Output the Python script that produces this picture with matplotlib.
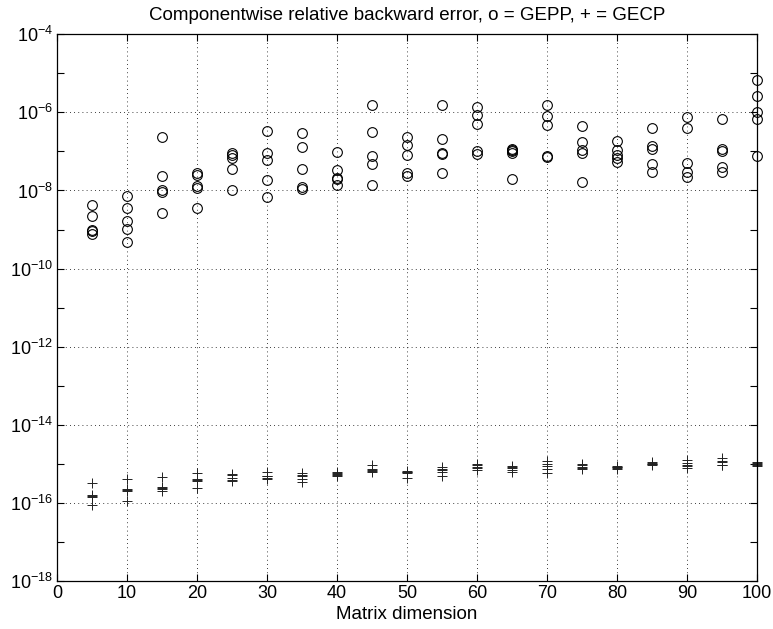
import numpy as np
import matplotlib
matplotlib.use("Agg")
import matplotlib.pyplot as plt
from matplotlib.ticker import FixedLocator, NullFormatter, FixedFormatter

plt.rcParams['font.family'] = ['Liberation Sans', 'DejaVu Sans']
plt.rcParams['mathtext.default'] = 'regular'

# matrix sizes tested
dims = [5, 10, 15, 20, 25, 30, 35, 40, 45, 50, 55, 60, 65, 70, 75, 80, 85, 90, 95, 100]

# log10 of the componentwise backward error, 5 trials per size
gepp_log = [
    [-8.38, -8.65, -9.01, -9.05, -9.12],
    [-8.14, -8.45, -8.78, -8.99, -9.33],
    [-6.64, -7.63, -7.99, -8.03, -8.58],
    [-7.54, -7.60, -7.88, -7.93, -8.46],
    [-7.03, -7.09, -7.16, -7.46, -7.99],
    [-6.47, -7.03, -7.22, -7.73, -8.17],
    [-6.53, -6.88, -7.45, -7.90, -7.96],
    [-7.01, -7.47, -7.69, -7.71, -7.86],
    [-5.81, -6.50, -7.11, -7.32, -7.86],
    [-6.63, -6.84, -7.08, -7.56, -7.63],
    [-5.81, -6.67, -7.03, -7.07, -7.55],
    [-5.85, -6.07, -6.31, -6.99, -7.06],
    [-6.94, -6.97, -6.99, -7.05, -7.70],
    [-5.81, -6.09, -6.32, -7.11, -7.13],
    [-6.36, -6.76, -6.96, -7.05, -7.77],
    [-6.73, -6.96, -7.09, -7.17, -7.26],
    [-6.40, -6.86, -6.94, -7.32, -7.52],
    [-6.12, -6.40, -7.29, -7.53, -7.66],
    [-6.17, -6.94, -6.98, -7.41, -7.52],
    [-5.17, -5.58, -5.98, -6.17, -7.11],
]

gecp_log = [
    [-15.48, -15.79, -15.82, -15.85, -16.05],
    [-15.39, -15.65, -15.67, -15.69, -15.95],
    [-15.34, -15.60, -15.62, -15.65, -15.69],
    [-15.24, -15.39, -15.41, -15.43, -15.62],
    [-15.26, -15.29, -15.35, -15.42, -15.44],
    [-15.21, -15.30, -15.32, -15.35, -15.39],
    [-15.24, -15.28, -15.32, -15.39, -15.47],
    [-15.20, -15.24, -15.26, -15.29, -15.32],
    [-15.04, -15.13, -15.15, -15.19, -15.22],
    [-15.18, -15.20, -15.22, -15.24, -15.35],
    [-15.09, -15.12, -15.15, -15.20, -15.32],
    [-15.01, -15.04, -15.07, -15.11, -15.17],
    [-15.05, -15.08, -15.11, -15.15, -15.21],
    [-14.92, -15.01, -15.05, -15.13, -15.24],
    [-15.01, -15.04, -15.07, -15.10, -15.13],
    [-15.05, -15.08, -15.09, -15.11, -15.13],
    [-14.95, -14.98, -15.00, -15.01, -15.04],
    [-14.91, -14.98, -15.02, -15.05, -15.11],
    [-14.84, -14.93, -14.95, -15.03, -15.04],
    [-14.94, -14.97, -15.00, -15.02, -15.05],
]

fig = plt.figure(figsize=(7.73, 6.29), dpi=100)
ax = fig.add_axes([0.0737, 0.0763, 0.9056, 0.8692])

for n, pp, cp in zip(dims, gepp_log, gecp_log):
    ax.semilogy([n] * len(pp), 10.0 ** np.array(pp), 'o', ms=7, mfc='none',
                mec='black', mew=0.8, clip_on=False)
    ax.semilogy([n] * len(cp), 10.0 ** np.array(cp), '+', ms=7,
                mec='#222222', mew=0.7, clip_on=False)

ax.set_xlim(0, 100)
ax.set_ylim(1e-18, 1e-4)
ax.set_xticks(np.arange(0, 101, 10))

major = [10.0 ** k for k in range(-18, -3, 2)]
minor = [10.0 ** k for k in range(-17, -4, 2)]
ax.yaxis.set_major_locator(FixedLocator(major))
ax.yaxis.set_major_formatter(FixedFormatter(['$10^{%d}$' % k for k in range(-18, -3, 2)]))
ax.yaxis.set_minor_locator(FixedLocator(minor))
ax.yaxis.set_minor_formatter(NullFormatter())

ax.tick_params(which='both', direction='in', top=True, right=True,
               labelsize=13, width=0.8, length=5)
ax.tick_params(axis='x', pad=3)
ax.tick_params(axis='y', pad=3)
ax.grid(True, which='major', linestyle=(0, (1, 4)), color='black', linewidth=0.6)
for s in ax.spines.values():
    s.set_linewidth(0.9)

ax.set_title('Componentwise relative backward error, o = GEPP, + = GECP', fontsize=13.5, pad=10)
ax.set_xlabel('Matrix dimension', fontsize=13.5, labelpad=3)

fig.savefig('out.png', dpi=100)
